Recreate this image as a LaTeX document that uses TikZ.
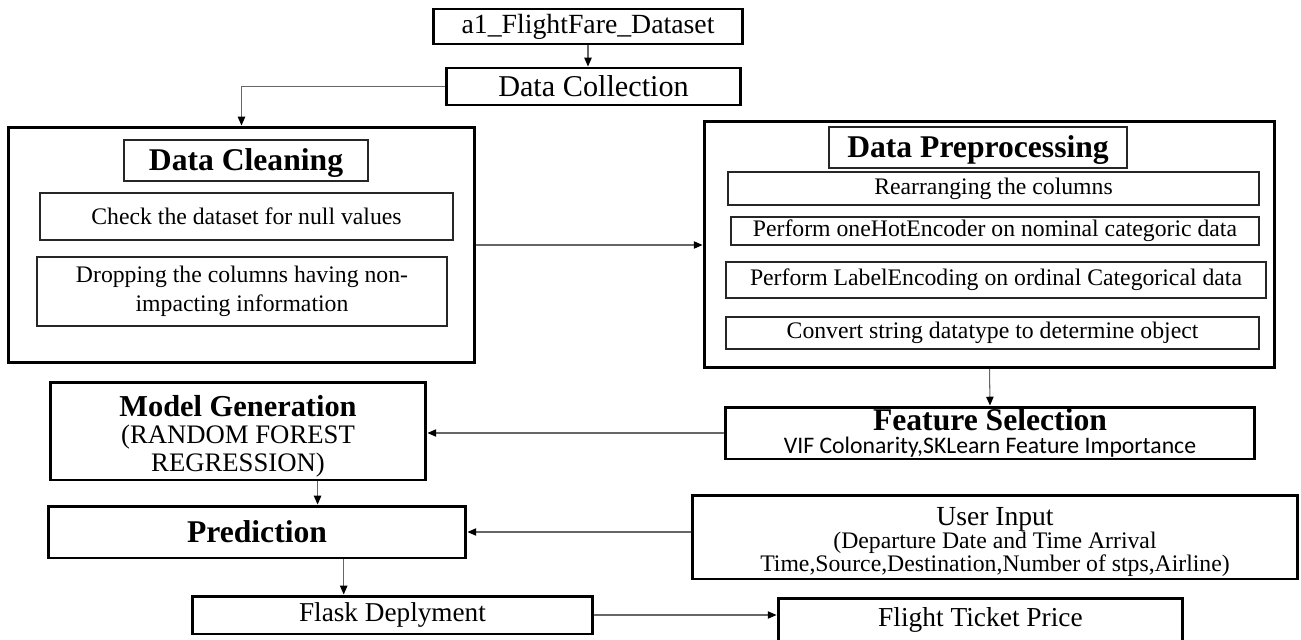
\documentclass[tikz,border=0pt]{standalone}
\usepackage{fontspec}
\setmainfont{Liberation Serif}
\newfontfamily\calibfont{Carlito}
\usetikzlibrary{arrows.meta,calc}

\begin{document}
\begin{tikzpicture}[x=0.02cm,y=-0.02cm,line cap=round,
  bigbox/.style={draw,line width=1.7pt,inner sep=0pt,align=center},
  titlebox/.style={draw=black!85,line width=0.7pt,inner sep=0pt,text height=15.5pt,text depth=4pt,font=\bfseries\fontsize{18}{21}\selectfont},
  itembox/.style={draw=black!85,line width=0.7pt,inner sep=0pt,align=center,font=\fontsize{13.5}{16.5}\selectfont},
  flow/.style={draw=black!60,line width=0.6pt,-{Triangle[length=5pt,width=4.2pt,color=black]}}]
\useasboundingbox (0,0) rectangle (1301,639);
\node[bigbox,minimum width=6.2cm,minimum height=0.7cm,font=\fontsize{15.8}{18}\selectfont] (dataset) at (588,26.5) {a1\_FlightFare\_Dataset};
\node[bigbox,minimum width=5.9cm,minimum height=0.74cm,font=\fontsize{17.2}{20}\selectfont] (collect) at (593.5,86.5) {Data Collection};
\node[bigbox,minimum width=9.34cm,minimum height=4.72cm] (clean) at (241.5,245) {};
\node[titlebox,minimum width=4.88cm,minimum height=0.82cm] (cleantitle) at (246,160.5) {Data Cleaning};
\node[itembox,minimum width=8.26cm,minimum height=0.94cm] (nullcheck) at (246.5,216.5) {Check the dataset for null values};
\node[itembox,minimum width=8.2cm,minimum height=1.38cm] (dropcols) at (242,291.5) {Dropping the columns having non-\\impacting information};
\node[bigbox,minimum width=11.42cm,minimum height=4.94cm] (prep) at (989.5,244.5) {};
\node[titlebox,minimum width=5.96cm,minimum height=0.82cm] (preptitle) at (978,147.5) {Data Preprocessing};
\node[itembox,minimum width=10.62cm,minimum height=0.66cm] (rearrange) at (993.5,188.5) {Rearranging the columns};
\node[itembox,minimum width=10.56cm,minimum height=0.56cm] (onehot) at (995,231) {Perform oneHotEncoder on nominal categoric data};
\node[itembox,minimum width=10.8cm,minimum height=0.72cm] (labelenc) at (996,280) {Perform LabelEncoding on ordinal Categorical data};
\node[itembox,minimum width=10.66cm,minimum height=0.64cm] (convert) at (992.5,333) {Convert string datatype to determine object};
\node[bigbox,minimum width=10.6cm,minimum height=1.04cm,font=\fontsize{13.5}{14.7}\selectfont] (feature) at (990,433)
  {{\bfseries\fontsize{18}{14.7}\selectfont Feature Selection}\\[-1.7pt]{\calibfont VIF Colonarity,SKLearn Feature Importance}};
\node[bigbox,minimum width=7.52cm,minimum height=1.96cm,font=\fontsize{15.2}{15.9}\selectfont] (model) at (238,431)
  {\rule{0pt}{18pt}{\bfseries\fontsize{17.3}{15.9}\selectfont Model Generation}\\(RANDOM FOREST\\REGRESSION)};
\node[bigbox,minimum width=8.36cm,minimum height=1.04cm,font=\bfseries\fontsize{18}{21}\selectfont] (predict) at (257,532) {Prediction};
\node[bigbox,minimum width=12.12cm,minimum height=1.68cm,font=\fontsize{13.5}{13}\selectfont] (userin) at (995,537)
  {\rule{0pt}{16pt}{\fontsize{15.7}{13}\selectfont User Input}\\(Departure Date and Time Arrival\\Time,Source,Destination,Number of stps,Airline)};
\node[bigbox,minimum width=8.02cm,minimum height=0.76cm,font=\fontsize{15.5}{18}\selectfont] (flask) at (392.5,615) {Flask Deplyment};
\node[bigbox,minimum width=8.1cm,minimum height=0.88cm,font=\fontsize{15.6}{18}\selectfont] (price) at (980.5,620) {Flight Ticket Price};
\draw[flow] (dataset.south) -- (dataset.south |- collect.north);
\draw[flow] (collect.west) -| (clean.north);
\draw[flow] (clean.east) -- (clean.east -| prep.west);
\draw[flow] (prep.south) -- (feature.north);
\draw[flow] (feature.west) -- (feature.west -| model.east);
\draw[flow] ($(model.south west)!0.71!(model.south east)$) coordinate (mg) -- (mg |- predict.north);
\draw[flow] (userin.west |- predict.east) -- (predict.east);
\draw[flow] ($(predict.south west)!0.706!(predict.south east)$) coordinate (pd) -- (pd |- flask.north);
\draw[flow] (flask.east) -- (flask.east -| price.west);
\end{tikzpicture}
\end{document}
